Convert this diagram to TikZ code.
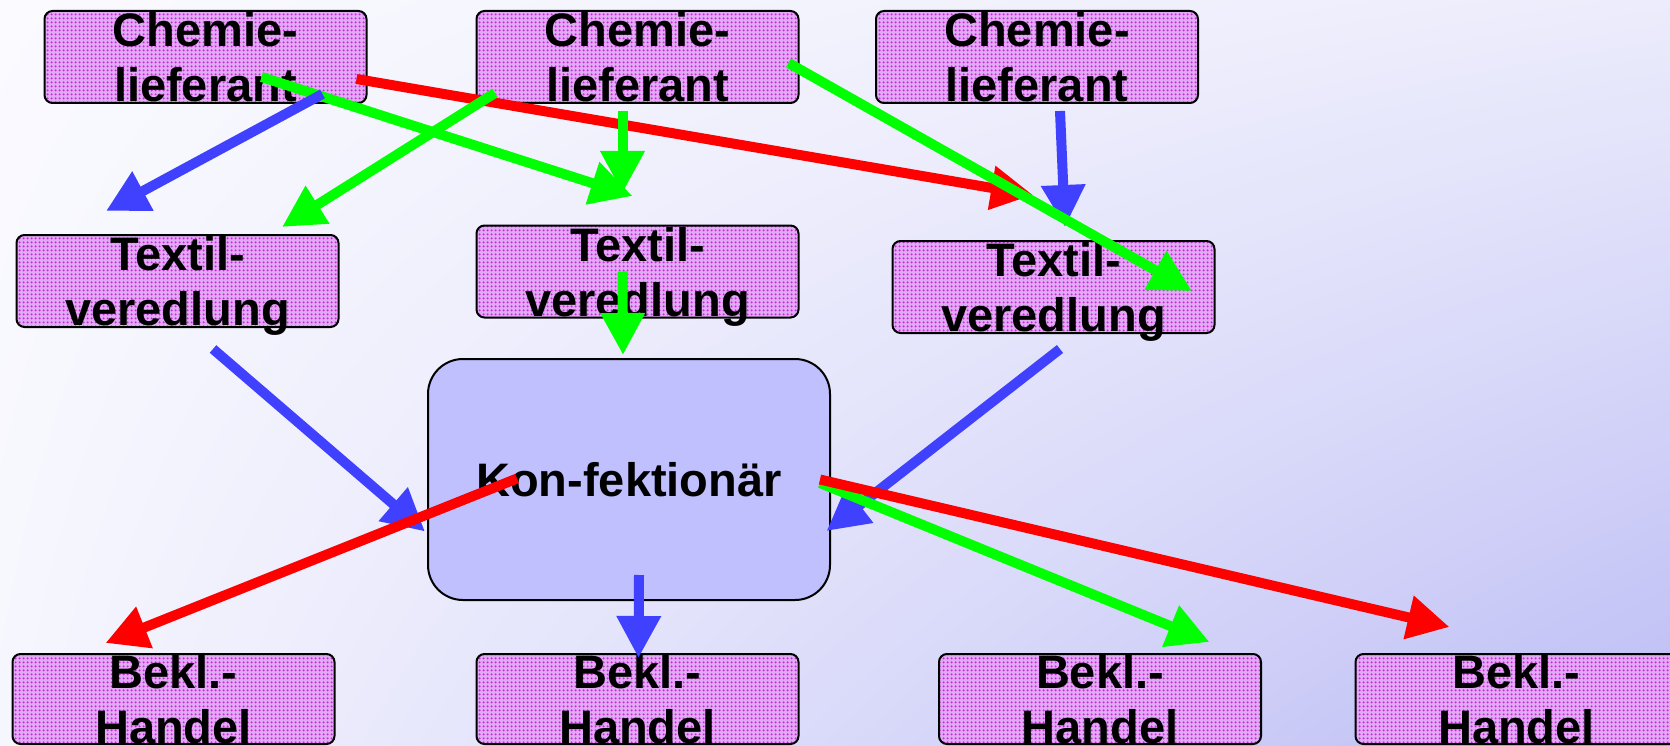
\documentclass[tikz,border=0pt]{standalone}
\usepackage{fontspec}
\setmainfont{Liberation Sans}
\usetikzlibrary{%
        arrows.meta,
        patterns.meta,
        shadings
    }
\definecolor{lilac}{RGB}{222, 172, 242}
\definecolor{dotmagenta}{RGB}{205, 35, 220}
\definecolor{konfblue}{RGB}{192, 192, 255}
\definecolor{flowblue}{RGB}{64, 64, 255}
\definecolor{flowgreen}{RGB}{0, 255, 0}
\definecolor{flowred}{RGB}{255, 0, 0}
\definecolor{bgtl}{RGB}{250, 250, 255}
\definecolor{bgtr}{RGB}{236, 236, 252}
\definecolor{bgbl}{RGB}{246, 246, 254}
\definecolor{bgbr}{RGB}{188, 188, 245}
\tikzset{%
    party/.style={%
        draw, line width=2pt, rounded corners=8pt,
        preaction={fill=lilac},
        pattern={Dots[radius=1.3pt, distance=4pt]}, pattern color=dotmagenta,
        minimum width=322pt, minimum height=92pt, inner sep=0pt,
        align=center, text depth=0pt,
        font=\fontsize{47pt}{55pt}\selectfont\bfseries
    },
    maker/.style={%
        draw, line width=2pt, rounded corners=35pt, fill=konfblue,
        minimum width=402pt, minimum height=241pt, inner sep=0pt,
        font=\fontsize{47pt}{55pt}\selectfont\bfseries
    },
    flow/.style={line width=10pt, -{Triangle[length=42pt, width=42pt]}}
}

\begin{document}
\begin{tikzpicture}[x=1pt, y=-1pt]

    \useasboundingbox (0, 0) rectangle (1670, 746);
    \shade[upper left=bgtl, upper right=bgtr, lower left=bgbl,
        lower right=bgbr] (0, 0) rectangle (1670, 746);

    \node[party] (chem1) at (205.5, 57) {Chemie-\\lieferant};
    \node[party] (chem2) at (637.5, 57) {Chemie-\\lieferant};
    \node[party] (chem3) at (1037, 57) {Chemie-\\lieferant};

    \node[party] (tex1) at (177.5, 281) {Textil-\\veredlung};
    \node[party] (tex2) at (637.5, 271.5) {Textil-\\veredlung};
    \node[party] (tex3) at (1053.5, 287) {Textil-\\veredlung};

    \node[maker] (konf) at (629, 479.5) {Kon-fektionär};

    \node[party, minimum height=90pt] (bekl1) at (173.5, 699) {Bekl.-\\Handel};
    \node[party, minimum height=90pt] (bekl2) at (637.5, 699) {Bekl.-\\Handel};
    \node[party, minimum height=90pt] (bekl3) at (1100, 699) {Bekl.-\\Handel};
    \node[party, minimum height=90pt] (bekl4) at (1516.5, 699) {Bekl.-\\Handel};

    \draw[flow, flowgreen] ([shift={(56, 20)}] chem1.center)
        -- ([shift={(-5, -75.5)}] tex2.center);
    \draw[flow, flowblue] ([shift={(117, 37)}] chem1.center)
        -- ([shift={(-71.5, -70)}] tex1.center);
    \draw[flow, flowred] ([shift={(151, 22)}] chem1.center)
        -- ([shift={(-20.5, -92)}] tex3.center);

    \draw[flow, flowgreen] ([shift={(-142.5, 36)}] chem2.center)
        -- ([shift={(104.5, -54)}] tex1.center);
    \draw[flow, flowgreen] ([shift={(-15, 54)}] chem2.center)
        -- ([shift={(-15, -78.5)}] tex2.center);
    \draw[flow, flowblue] ([shift={(23, 54)}] chem3.center)
        -- ([shift={(11.5, -60)}] tex3.center);
    \draw[flow, flowgreen] ([shift={(151, 6)}] chem2.center)
        -- ([shift={(138.5, 4)}] tex3.center);

    \draw[flow, flowgreen] ([shift={(-15, 0)}] tex2.center)
        -- ([shift={(-6, -124.5)}] konf.center);
    \draw[flow, flowblue] ([shift={(35.5, 68)}] tex1.center)
        -- ([shift={(-204, 52)}] konf.center);
    \draw[flow, flowblue] ([shift={(6.5, 62)}] tex3.center)
        -- ([shift={(197.5, 51.5)}] konf.center);

    \draw[flow, flowblue] ([shift={(10, 95.5)}] konf.center)
        -- ([shift={(1, -41)}] bekl2.center);
    \draw[flow, flowgreen] ([shift={(191, 3.5)}] konf.center)
        -- ([shift={(109.5, -57)}] bekl3.center);
    \draw[flow, flowred] ([shift={(-112, -1)}] konf.center)
        -- ([shift={(-68, -56)}] bekl1.center);
    \draw[flow, flowred] ([shift={(191, 0)}] konf.center)
        -- ([shift={(-67, -72)}] bekl4.center);

\end{tikzpicture}
\end{document}
